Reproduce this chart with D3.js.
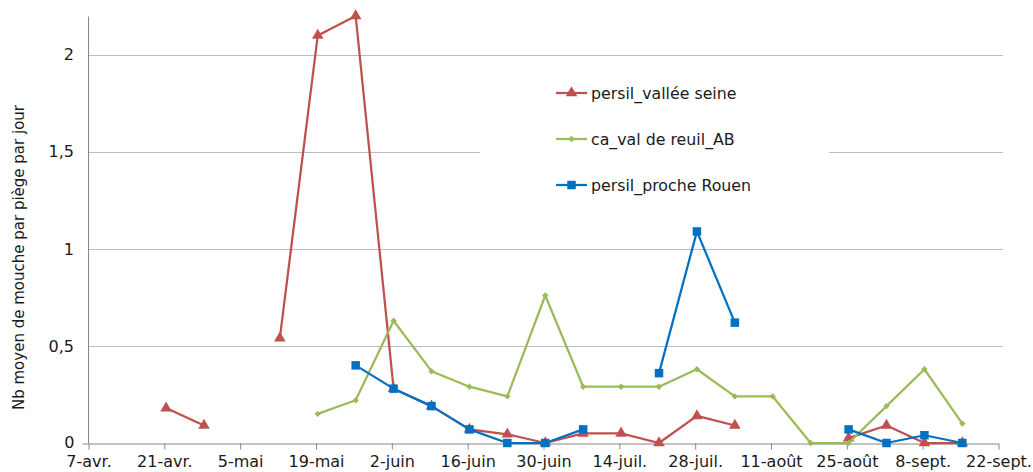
<!DOCTYPE html>
<html>
<head>
<meta charset="utf-8">
<script src="https://cdn.jsdelivr.net/npm/d3@7"></script>
<style>
  body { margin: 0; background: #fff; }
  svg text { font-family: "DejaVu Sans", Verdana, sans-serif; fill: #1a1a1a; }
</style>
</head>
<body>
<svg id="chart" width="1033" height="472"></svg>
<script>
// relevés hebdomadaires (2014)
const dates = ['2014-04-21', '2014-04-28', '2014-05-05', '2014-05-12', '2014-05-19', '2014-05-26',
  '2014-06-02', '2014-06-09', '2014-06-16', '2014-06-23', '2014-06-30', '2014-07-07', '2014-07-14',
  '2014-07-21', '2014-07-28', '2014-08-04', '2014-08-11', '2014-08-18', '2014-08-25', '2014-09-01',
  '2014-09-08', '2014-09-15'];

const persilValleeSeine = [0.18, 0.09, null, 0.54, 2.10, 2.20, 0.28, 0.19, 0.07, 0.045, 0, 0.05, 0.05,
  0, 0.14, 0.09, null, null, 0.025, 0.09, 0, 0];
const caValDeReuil = [null, null, null, null, 0.15, 0.22, 0.63, 0.37, 0.29, 0.24, 0.76, 0.29, 0.29,
  0.29, 0.38, 0.24, 0.24, 0, 0, 0.19, 0.38, 0.10];
const persilProcheRouen = [null, null, null, null, null, 0.40, 0.28, 0.19, 0.07, 0, 0, 0.07, null,
  0.36, 1.09, 0.62, null, null, 0.07, 0, 0.04, 0];

const seriesNames = ['persil_vallée seine', 'ca_val de reuil_AB', 'persil_proche Rouen'];
const yTicks = [0, 0.5, 1, 1.5, 2];
const monthsShort = ['janv.', 'févr.', 'mars', 'avr.', 'mai', 'juin', 'juil.', 'août', 'sept.', 'oct.', 'nov.', 'déc.'];
const yLabel = 'Nb moyen de mouche par piège par jour';

const parse = d3.utcParse('%Y-%m-%d');
const start = parse('2014-04-07');
const end = parse('2014-09-22');

const locale = d3.timeFormatLocale({
  dateTime: '%A %e %B %Y à %X', date: '%d/%m/%Y', time: '%H:%M:%S', periods: ['AM', 'PM'],
  days: ['dimanche', 'lundi', 'mardi', 'mercredi', 'jeudi', 'vendredi', 'samedi'],
  shortDays: ['dim.', 'lun.', 'mar.', 'mer.', 'jeu.', 'ven.', 'sam.'],
  months: ['janvier', 'février', 'mars', 'avril', 'mai', 'juin', 'juillet', 'août', 'septembre', 'octobre', 'novembre', 'décembre'],
  shortMonths: monthsShort
});
const fmtDate = locale.utcFormat('%-d-%b');
const fmtNum = d3.formatLocale({ decimal: ',', thousands: ' ', grouping: [3], currency: ['', ' €'] }).format('');

const margin = { left: 88, right: 35, top: 16, bottom: 29 };
const width = 1033, height = 472;

const svg = d3.select('#chart');

const x = d3.scaleUtc()
  .domain([start, end])
  .range([margin.left, width - margin.right]);

const y = d3.scaleLinear()
  .domain([0, 2.2])
  .range([height - margin.bottom, margin.top]);

// points sit in the middle of their day slot
const px = (date) => x(d3.utcHour.offset(date, 10));

// gridlines
svg.append('g')
  .selectAll('line')
  .data(yTicks.filter((t) => t > 0))
  .join('line')
    .attr('x1', margin.left)
    .attr('x2', width - margin.right + 5)
    .attr('y1', (d) => Math.round(y(d)) + 0.5)
    .attr('y2', (d) => Math.round(y(d)) + 0.5)
    .attr('stroke', '#bdbdbd');

// x axis
const xTicks = d3.range(13).map((i) => d3.utcDay.offset(start, i * 14));
const xAxis = svg.append('g')
  .attr('transform', `translate(0.5, ${Math.round(y(0)) + 0.5})`)
  .call(d3.axisBottom(x).tickValues(xTicks).tickFormat(fmtDate).tickSize(6).tickSizeOuter(0).tickPadding(6));

// y axis
const yAxis = svg.append('g')
  .attr('transform', `translate(${margin.left + 0.5}, 0.5)`)
  .call(d3.axisLeft(y).tickValues([0]).tickFormat(fmtNum).tickSize(6).tickSizeOuter(0).tickPadding(8));

svg.append('g')
  .selectAll('text')
  .data(yTicks.filter((t) => t > 0))
  .join('text')
    .attr('x', margin.left - 14)
    .attr('y', (d) => y(d))
    .attr('dy', '0.35em')
    .attr('text-anchor', 'end')
    .style('font-size', '16px')
    .text(fmtNum);

[xAxis, yAxis].forEach((a) => {
  a.select('.domain').attr('stroke', '#868686');
  a.selectAll('.tick line').attr('stroke', '#868686');
  a.selectAll('.tick text').style('font-size', '16px').attr('fill', '#1a1a1a');
});
yAxis.select('.domain').attr('d', `M0,${y(2.2)}V${y(0)}`);
yAxis.select('.tick text').attr('dy', '0.25em');

// y label
svg.append('text')
  .attr('transform', `translate(24, ${(y(0) + y(2.2)) / 2 + 28}) rotate(-90)`)
  .attr('text-anchor', 'middle')
  .style('font-size', '15px')
  .text(yLabel);

// legend background
svg.append('rect')
  .attr('x', 480)
  .attr('y', 64)
  .attr('width', 349)
  .attr('height', 150)
  .attr('fill', '#fff');

const colors = ['#c0504d', '#9bbb59', '#0070c0'];
const symbols = [
  d3.symbol().type(d3.symbolTriangle).size(58),
  d3.symbol().type(d3.symbolDiamond2).size(26),
  d3.symbol().type(d3.symbolSquare).size(72)
];
const values = [persilValleeSeine, caValDeReuil, persilProcheRouen];

const series = values.map((vals, i) => ({
  name: seriesNames[i],
  color: colors[i],
  symbol: symbols[i],
  points: dates.map((d, j) => ({ date: parse(d), v: vals[j] }))
}));

const line = d3.line()
  .defined((d) => d.v !== null)
  .x((d) => px(d.date))
  .y((d) => y(d.v));

const groups = svg.append('g')
  .selectAll('g')
  .data(series)
  .join('g');

groups.append('path')
  .attr('d', (d) => line(d.points))
  .attr('fill', 'none')
  .attr('stroke', (d) => d.color)
  .attr('stroke-width', 2.25)
  .attr('stroke-linejoin', 'round');

groups.each(function(s) {
  d3.select(this).selectAll('path.marker')
    .data(s.points.filter((p) => p.v !== null))
    .join('path')
      .attr('class', 'marker')
      .attr('transform', (p) => `translate(${px(p.date)}, ${y(p.v)})`)
      .attr('d', s.symbol())
      .attr('fill', s.color);
});

// legend
const legend = svg.append('g')
  .selectAll('g')
  .data(series)
  .join('g')
    .attr('transform', (d, i) => `translate(556, ${93 + i * 46})`);

legend.append('line')
  .attr('x1', 0)
  .attr('x2', 31)
  .attr('stroke', (d) => d.color)
  .attr('stroke-width', 2.25);

legend.append('path')
  .attr('transform', 'translate(15.5, 0)')
  .attr('d', (d) => d.symbol())
  .attr('fill', (d) => d.color);

legend.append('text')
  .attr('x', 35)
  .attr('dy', '0.35em')
  .style('font-size', '15.8px')
  .text((d) => d.name);
</script>
</body>
</html>
